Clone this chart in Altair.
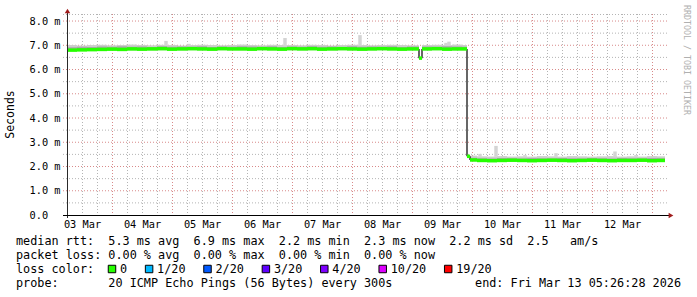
import altair as alt
import pandas as pd

MONO = "DejaVu Sans Mono"

# ---- series (hours since 03 Mar 00:00) ----
T = [6, 10, 14, 18, 22, 26, 30, 34, 38, 42, 46, 50, 54, 58, 62, 66, 70, 74, 78, 82,
     86, 90, 94, 98, 102, 106, 110, 114, 118, 122, 126, 130, 134, 138, 142,
     146.8,
     148, 152, 156, 160, 164,
     166, 167.2, 170, 174, 178, 182, 186, 190, 194, 198, 202, 206, 210, 214, 218,
     222, 226, 230, 234, 238, 242]
END_H = 245.2

MEDIAN = [6.80, 6.81, 6.82, 6.83, 6.84, 6.83, 6.85, 6.84, 6.85, 6.86,
          6.84, 6.85, 6.86, 6.85, 6.84, 6.86, 6.85, 6.85, 6.84, 6.86,
          6.85, 6.84, 6.86, 6.85, 6.86, 6.84, 6.85, 6.86, 6.85, 6.84,
          6.85, 6.86, 6.85, 6.84, 6.85,
          6.47,
          6.85, 6.86, 6.84, 6.85, 6.85,
          2.42, 2.27, 2.25, 2.24, 2.25, 2.26, 2.25, 2.24, 2.25, 2.26,
          2.25, 2.24, 2.25, 2.26, 2.25, 2.24, 2.25, 2.25, 2.26, 2.24, 2.25]
SMOKE_LO = [6.76, 6.77, 6.78, 6.78, 6.79, 6.78, 6.79, 6.78, 6.79, 6.80,
            6.78, 6.79, 6.80, 6.79, 6.78, 6.80, 6.79, 6.79, 6.78, 6.80,
            6.79, 6.78, 6.80, 6.79, 6.80, 6.78, 6.79, 6.80, 6.79, 6.78,
            6.79, 6.80, 6.79, 6.78, 6.79,
            6.47,
            6.79, 6.80, 6.78, 6.79, 6.79,
            2.38, 2.21, 2.19, 2.18, 2.19, 2.20, 2.19, 2.18, 2.19, 2.20,
            2.19, 2.18, 2.19, 2.20, 2.19, 2.18, 2.19, 2.19, 2.20, 2.18, 2.19]
SMOKE_Q = [6.92, 6.94, 6.93, 6.95, 6.94, 6.96, 6.94, 6.95, 6.93, 6.96,
           6.94, 6.95, 6.94, 6.96, 6.93, 6.95, 6.94, 6.96, 6.95, 6.94,
           6.96, 6.93, 6.95, 6.94, 6.96, 6.94, 6.95, 6.93, 6.96, 6.94,
           6.95, 6.94, 6.96, 6.93, 6.95,
           6.47,
           6.95, 6.94, 6.96, 6.95, 6.94,
           2.44, 2.36, 2.34, 2.33, 2.35, 2.34, 2.33, 2.35, 2.34, 2.33,
           2.35, 2.34, 2.33, 2.35, 2.34, 2.33, 2.35, 2.34, 2.33, 2.35, 2.34]
SMOKE_HI = [7.01, 6.99, 7.01, 7.02, 7.00, 7.01, 7.03, 7.01, 7.00, 7.02,
            7.01, 6.99, 7.01, 7.02, 7.01, 7.00, 7.01, 7.03, 7.01, 7.00,
            7.02, 7.01, 7.01, 7.00, 7.02, 7.01, 6.99, 7.01, 7.02, 7.01,
            7.00, 7.01, 7.02, 7.01, 7.00,
            6.47,
            7.01, 7.02, 7.01, 7.03, 7.01,
            2.47, 2.45, 2.42, 2.41, 2.43, 2.41, 2.42, 2.41, 2.43, 2.42,
            2.41, 2.43, 2.42, 2.41, 2.42, 2.43, 2.41, 2.42, 2.41, 2.43, 2.42]

SPIKE_H = [45.6, 54.8, 93.2, 123.2, 157.6, 158.8, 171.2, 177.6, 189.2, 201.6, 225.2, 233.6]
SPIKE_TOP = [7.18, 7.06, 7.30, 7.42, 7.10, 7.15, 2.52, 2.85, 2.47, 2.55, 2.62, 2.47]
SPIKE_BASE = [6.98, 6.98, 6.98, 6.98, 6.98, 6.98, 2.40, 2.40, 2.40, 2.40, 2.40, 2.40]

# ---- axes / ticks ----
DAY_LABELS = ["03 Mar", "04 Mar", "05 Mar", "06 Mar", "07 Mar",
              "08 Mar", "09 Mar", "10 Mar", "11 Mar", "12 Mar"]
DAY_LABEL_H = [12, 36, 60, 84, 108, 132, 156, 180, 204, 228]
MAJOR_X = [24, 48, 72, 96, 120, 144, 168, 192, 216, 240]
MINOR_X = [12, 18, 30, 36, 42, 54, 60, 66, 78, 84, 90, 102, 108, 114, 126, 132, 138,
           150, 156, 162, 174, 180, 186, 198, 204, 210, 222, 228, 234]
Y_TICKS = [0, 1, 2, 3, 4, 5, 6, 7, 8]
MAJOR_Y = [1, 2, 3, 4, 5, 6, 7, 8]
MINOR_Y = [0.5, 1.5, 2.5, 3.5, 4.5, 5.5, 6.5, 7.5]

# ---- legend ----
LINE_RTT = "median rtt:  5.3 ms avg  6.9 ms max  2.2 ms min  2.3 ms now  2.2 ms sd  2.5   am/s"
LINE_LOSS = "packet loss: 0.00 % avg  0.00 % max  0.00 % min  0.00 % now"
LINE_COLOR = "loss color:"
LINE_PROBE = "probe:       20 ICMP Echo Pings (56 Bytes) every 300s"
LINE_END = "end: Fri Mar 13 05:26:28 2026"
LOSS_LABELS = ["0", "1/20", "2/20", "3/20", "4/20", "10/20", "19/20"]
LOSS_COLORS = ["#26ff00", "#00b8ff", "#0059ff", "#5e00ff", "#7e00ff", "#dd00ff", "#ff0000"]
WATERMARK = "RRDTOOL / TOBI OETIKER"

W, H = 600, 201
xs = alt.Scale(domain=[6, 246], nice=False, zero=False)
ys = alt.Scale(domain=[0, 8.29], nice=False, zero=False)

label_arr = "[" + ",".join("'%s'" % d for d in DAY_LABELS) + "]"
XAX = alt.Axis(values=DAY_LABEL_H, labelExpr=label_arr + "[floor(datum.value/24)]",
               title="", grid=False, domain=False, ticks=False, labelPadding=4,
               labelFont=MONO, labelFontSize=10.3, labelColor="#000000",
               labelOverlap=False, labelFlush=False)
YAX = alt.Axis(values=Y_TICKS,
               labelExpr="datum.value == 0 ? '0.0' : format(datum.value, '.1f') + ' m'",
               title="Seconds", titleFont=MONO, titleFontSize=11.5, titleFontWeight="normal",
               titleColor="#000000", titleX=-57, titleY=100, titleAngle=270,
               titleAlign="center", titleBaseline="middle",
               grid=False, domain=False, ticks=False, labelAlign="left", labelPadding=38,
               labelBaseline="middle", labelFont=MONO, labelFontSize=10.3,
               labelColor="#000000", labelOverlap=False, labelFlush=False)

samples = pd.DataFrame({
    "t": T,
    "t2": T[1:] + [END_H],
    "med": MEDIAN,
    "mprev": [MEDIAN[0]] + MEDIAN[:-1],
    "lo": SMOKE_LO,
    "q": SMOKE_Q,
    "hi": SMOKE_HI,
})
spikes = pd.DataFrame({"t": [h - 0.7 for h in SPIKE_H], "t2": [h + 0.7 for h in SPIKE_H],
                       "top": SPIKE_TOP, "base": SPIKE_BASE})

MINOR_C = "#b4b4b4"
MAJOR_C = "#d88a8a"
layers = []
# grid
layers.append(alt.Chart(pd.DataFrame({"gx": MINOR_X})).mark_rule(
    color=MINOR_C, strokeDash=[1, 2], strokeWidth=1, xOffset=0.5).encode(
    x=alt.X("gx:Q", scale=xs, axis=XAX), y=alt.value(0), y2=alt.value(H + 3)))
layers.append(alt.Chart(pd.DataFrame({"gy": MINOR_Y})).mark_rule(
    color=MINOR_C, strokeDash=[1, 2], strokeWidth=1).encode(
    y=alt.Y("gy:Q", scale=ys, axis=YAX), x=alt.value(-4), x2=alt.value(W + 1)))
layers.append(alt.Chart(pd.DataFrame({"gx": MAJOR_X})).mark_rule(
    color=MAJOR_C, strokeDash=[1, 2], strokeWidth=1, xOffset=0.5).encode(
    x=alt.X("gx:Q", scale=xs, axis=XAX), y=alt.value(0), y2=alt.value(H + 3)))
layers.append(alt.Chart(pd.DataFrame({"gy": MAJOR_Y})).mark_rule(
    color=MAJOR_C, strokeDash=[1, 2], strokeWidth=1).encode(
    y=alt.Y("gy:Q", scale=ys, axis=YAX), x=alt.value(-4), x2=alt.value(W + 1)))
layers.append(alt.Chart(pd.DataFrame({"k": [0]})).mark_rule(
    color=MINOR_C, strokeDash=[1, 2], strokeWidth=1).encode(
    y=alt.value(0.5), x=alt.value(-4), x2=alt.value(W + 1)))

# smoke
base = alt.Chart(samples)
layers.append(base.mark_rect(color="#cdcdcd").encode(
    x=alt.X("t:Q", scale=xs, axis=XAX), x2="t2:Q",
    y=alt.Y("lo:Q", scale=ys, axis=YAX), y2="hi:Q"))
layers.append(base.mark_rect(color="#a9a9a9").encode(
    x=alt.X("t:Q", scale=xs, axis=XAX), x2="t2:Q",
    y=alt.Y("med:Q", scale=ys, axis=YAX), y2="q:Q"))
layers.append(alt.Chart(spikes).mark_rect(color="#d4d4d4").encode(
    x=alt.X("t:Q", scale=xs, axis=XAX), x2="t2:Q",
    y=alt.Y("base:Q", scale=ys, axis=YAX), y2="top:Q"))
# median
layers.append(base.mark_rule(color="#000000", strokeWidth=1.2).encode(
    x=alt.X("t:Q", scale=xs, axis=XAX),
    y=alt.Y("mprev:Q", scale=ys, axis=YAX), y2="med:Q"))
layers.append(base.mark_rule(color=LOSS_COLORS[0], strokeWidth=3.5).encode(
    x=alt.X("t:Q", scale=xs, axis=XAX), x2="t2:Q",
    y=alt.Y("med:Q", scale=ys, axis=YAX)))

# axis lines and arrows
one = pd.DataFrame({"k": [0]})
layers.append(alt.Chart(one).mark_rule(color="#2a2a2a", strokeWidth=1, xOffset=0.5).encode(
    x=alt.value(0), y=alt.value(-3), y2=alt.value(H + 3)))
layers.append(alt.Chart(one).mark_rule(color="#000000", strokeWidth=1, yOffset=0.5).encode(
    y=alt.value(H), x=alt.value(-4), x2=alt.value(W + 3)))
layers.append(alt.Chart(one).mark_point(shape="triangle-up", filled=True, size=30,
                                        color="#a01c1c", opacity=1).encode(
    x=alt.value(0.5), y=alt.value(-3)))
layers.append(alt.Chart(one).mark_point(shape="triangle-right", filled=True, size=30,
                                        color="#a01c1c", opacity=1).encode(
    x=alt.value(W + 4), y=alt.value(H + 0.5)))


def text_layer(s, x, y, align="left", size=11.8, color="#000000", angle=0):
    df = pd.DataFrame({"s": [s.replace(" ", "\u00a0")]})
    return alt.Chart(df).mark_text(font=MONO, fontSize=size, align=align,
                                   baseline="middle", color=color, angle=angle).encode(
        text="s:N", x=alt.value(x), y=alt.value(y))


LX = 16 - 67
layers.append(text_layer(LINE_RTT, LX, 241 - 14))
layers.append(text_layer(LINE_LOSS, LX, 255 - 14))
layers.append(text_layer(LINE_COLOR, LX, 269 - 14))
layers.append(text_layer(LINE_PROBE, LX, 283 - 14))
layers.append(text_layer(LINE_END, 681 - 67, 283 - 14, align="right"))
layers.append(text_layer(WATERMARK, 686 - 67, 60 - 14, align="center", size=8.3,
                         color="#b0b0b0", angle=90))

cx = 112.0
for lab, col in zip(LOSS_LABELS, LOSS_COLORS):
    layers.append(alt.Chart(one).mark_square(size=56, filled=True, fill=col,
                                             stroke="#000000", strokeWidth=1, opacity=1).encode(
        x=alt.value(cx - 67), y=alt.value(269 - 14)))
    layers.append(text_layer(lab, cx + 8 - 67, 269 - 14))
    cx += 30 + 7.1 * len(lab)

chart = alt.layer(*layers).properties(
    width=W, height=H,
    autosize=alt.AutoSizeParams(type="none"),
    padding={"left": 67, "top": 14, "right": 30, "bottom": 82},
    background="#ffffff",
).configure_view(strokeWidth=0)

chart.save("out.html", embed_options={"renderer": "svg", "actions": False})
